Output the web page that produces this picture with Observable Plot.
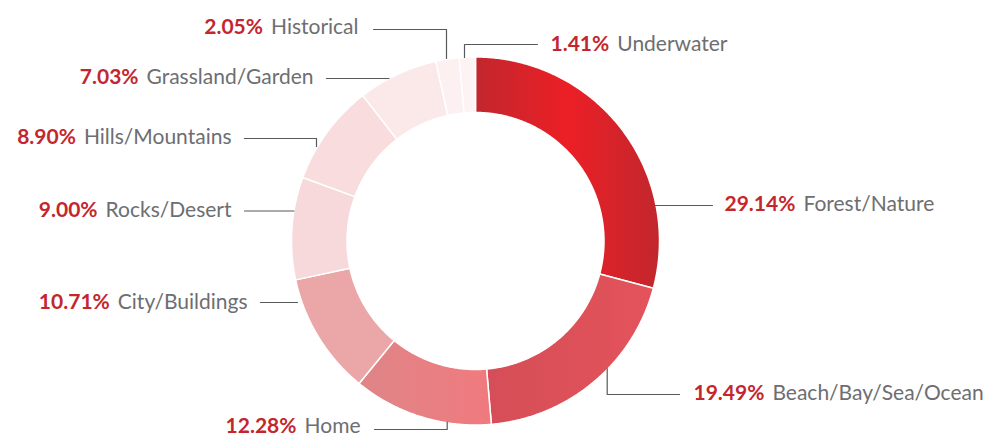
<!DOCTYPE html>
<html>
<head>
<meta charset="utf-8">
<script src="https://cdn.jsdelivr.net/npm/d3@7"></script>
<script src="https://cdn.jsdelivr.net/npm/@observablehq/plot@0.6"></script>
<style>
  html, body { margin: 0; padding: 0; background: #ffffff; }
  #chart { width: 1006px; height: 436px; }
</style>
</head>
<body>
<div id="chart"></div>
<script>
// ---- data ----
const categories = ["Forest/Nature", "Beach/Bay/Sea/Ocean", "Home", "City/Buildings", "Rocks/Desert", "Hills/Mountains", "Grassland/Garden", "Historical", "Underwater"];
const shares = [29.14, 19.49, 12.28, 10.71, 9.00, 8.90, 7.03, 2.05, 1.41];
const pctLabels = ["29.14%", "19.49%", "12.28%", "10.71%", "9.00%", "8.90%", "7.03%", "2.05%", "1.41%"];

// ---- styling / layout ----
const palette = ["url(#gForest)", "url(#gBeach)", "url(#gHome)", "#eba6a8", "#f7d9db", "#f8dcde", "#fbe9ea", "#fcf0f1", "#fdf2f4"];
const labelAnchors = [[724, 204, "start"], [693, 393, "start"], [360, 426, "end"], [247, 302, "end"], [231, 210, "end"], [231, 137, "end"], [313, 77, "end"], [358, 27, "end"], [550, 44, "start"]];
const leaders = [
  [[655, 205], [712, 205]],
  [[606.7, 368], [606.7, 394], [679, 394]],
  [[446.7, 421.5], [446.7, 429], [374, 429]],
  [[297, 302], [260, 302]],
  [[293.5, 210.5], [244, 210.5]],
  [[316, 146], [316, 138], [244, 138]],
  [[388.5, 78], [326, 78]],
  [[446, 58], [446, 29], [373, 29]],
  [[464, 57], [464, 44], [537, 44]]
];
const W = 1006, H = 436;
const cx = 475, cy = 240.5, rIn = 128.5, rOut = 184;

// ---- build slice polygons ----
const total = d3.sum(shares);
const rows = [];
let acc = 0;
shares.forEach((v, i) => {
  const a0 = acc / total * 2 * Math.PI;
  acc += v;
  const a1 = acc / total * 2 * Math.PI;
  const n = Math.max(4, Math.ceil((a1 - a0) / (Math.PI / 360)));
  for (let k = 0; k <= n; k++) {
    const a = a0 + (a1 - a0) * k / n;
    rows.push({key: categories[i], x: cx + rOut * Math.sin(a), y: cy - rOut * Math.cos(a), fill: palette[i]});
  }
  for (let k = n; k >= 0; k--) {
    const a = a0 + (a1 - a0) * k / n;
    rows.push({key: categories[i], x: cx + rIn * Math.sin(a), y: cy - rIn * Math.cos(a), fill: palette[i]});
  }
});

const leaderRows = [];
leaders.forEach((pts, i) => pts.forEach(([x, y]) => leaderRows.push({key: categories[i], x, y})));

const labels = categories.map((c, i) => ({
  name: c, pct: pctLabels[i], x: labelAnchors[i][0], y: labelAnchors[i][1], side: labelAnchors[i][2],
  text: pctLabels[i] + " " + c
}));

const chart = Plot.plot({
  width: W, height: H,
  margin: 0,
  x: {domain: [0, W], range: [0, W], axis: null},
  y: {domain: [0, H], range: [0, H], axis: null},
  color: {type: "identity"},
  style: {background: "#ffffff", fontFamily: "Lato, 'Open Sans', sans-serif"},
  marks: [
    Plot.line(rows, {x: "x", y: "y", z: "key", fill: "fill", stroke: "#ffffff", strokeWidth: 1.5, curve: "linear-closed"}),
    Plot.line(leaderRows, {x: "x", y: "y", z: "key", stroke: "#58595b", strokeWidth: 1.2}),
    Plot.text(labels.filter(d => d.side === "start"), {x: "x", y: "y", text: "text", textAnchor: "start", fontSize: 21}),
    Plot.text(labels.filter(d => d.side === "end"), {x: "x", y: "y", text: "text", textAnchor: "end", fontSize: 21})
  ]
});

// gradients
const defs = d3.select(chart).insert("defs", ":first-child");
function grad(id, stops) {
  const g = defs.append("linearGradient").attr("id", id).attr("x1", 0).attr("y1", 0).attr("x2", 1).attr("y2", 0);
  stops.forEach(([o, c]) => g.append("stop").attr("offset", o).attr("stop-color", c));
}
grad("gForest", [[0, "#c1272d"], [0.5, "#ec1f26"], [1, "#c1272d"]]);
grad("gBeach", [[0, "#d54e57"], [1, "#e4535b"]]);
grad("gHome", [[0, "#df8588"], [1, "#f07a7e"]]);

// split labels into bold percentage + grey name
d3.select(chart).selectAll("text").each(function() {
  const t = this.textContent;
  const sp = t.indexOf("% ");
  if (sp < 0) return;
  const pct = t.slice(0, sp + 1), name = t.slice(sp + 2);
  const sel = d3.select(this);
  sel.text(null);
  sel.append("tspan").attr("fill", "#c4262e").attr("font-weight", "bold").text(pct);
  sel.append("tspan").attr("fill", "#6d6e71").attr("font-weight", "normal").attr("dx", 8).text(name);
});

document.getElementById("chart").appendChild(chart);
</script>
</body>
</html>
